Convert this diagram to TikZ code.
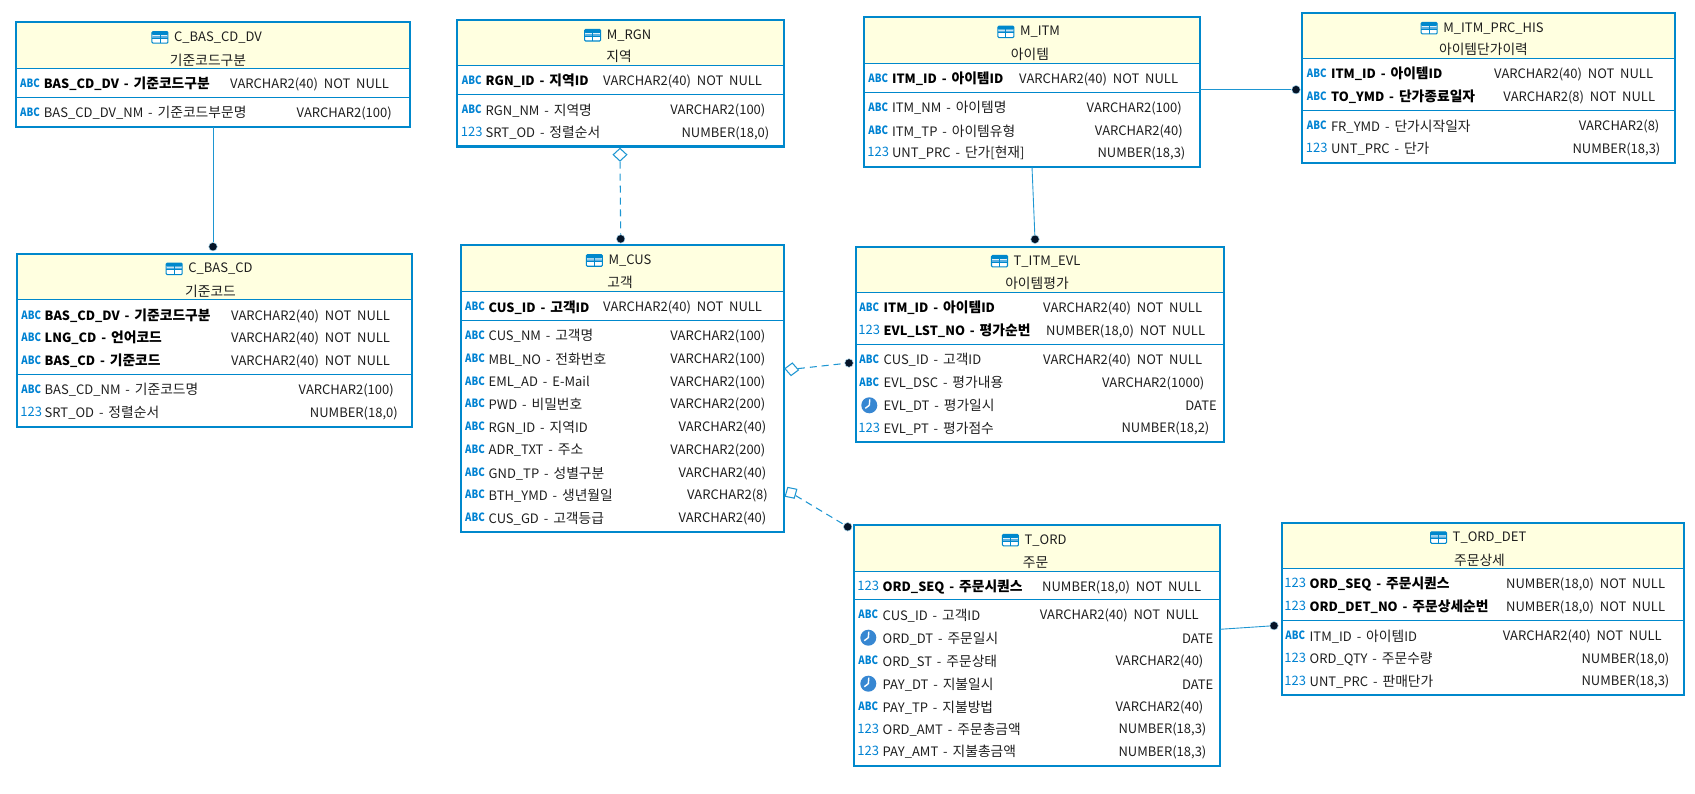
\documentclass[tikz,border=0pt]{standalone}
\usepackage{fontspec}
\setmainfont{Noto Sans CJK KR}
\usetikzlibrary{positioning,shapes.geometric}
\definecolor{erdblue}{RGB}{0,136,204}
\definecolor{relblue}{RGB}{30,150,210}
\definecolor{headyellow}{RGB}{255,255,224}
\definecolor{markblue}{RGB}{0,130,210}
\definecolor{iconmid}{RGB}{90,175,225}
\definecolor{clockblue}{RGB}{55,135,210}
\definecolor{dotnavy}{RGB}{5,20,40}
\definecolor{inkgrey}{RGB}{30,30,30}
\newcommand{\pxu}{0.02cm}
\newcommand{\ko}[1]{{\fontsize{7.85}{9}\selectfont #1}}
\newcommand{\coldash}{\hspace{2.8pt}-\hspace{2.8pt}}
\tikzset{
  erd-frame/.style={draw=erdblue, line width=1.3pt},
  erd-sep/.style={draw=erdblue, line width=0.6pt},
  titletext/.style={font=\fontsize{7.4}{9}\selectfont, text=inkgrey, inner sep=0pt, yshift=-0.5pt},
  tableicon/.style={
    draw=erdblue, fill=white, line width=0.6pt, rounded corners=0.6pt, inner sep=0pt,
    minimum width=16*\pxu, minimum height=11.5*\pxu,
    path picture={
      \fill[erdblue] (path picture bounding box.north west) rectangle ([yshift=-3.6*\pxu]path picture bounding box.north east);
      \fill[iconmid] ([yshift=-4.6*\pxu]path picture bounding box.north west) rectangle ([yshift=-6.6*\pxu]path picture bounding box.north east);
      \draw[erdblue, line width=0.5pt] ([yshift=-6.8*\pxu]path picture bounding box.north west) -- ([yshift=-6.8*\pxu]path picture bounding box.north east);
      \draw[erdblue, line width=0.5pt] (path picture bounding box.north) -- (path picture bounding box.south);
    }
  },
  keycol/.style={font=\fontsize{7.25}{9}\selectfont\bfseries, text=black, inner sep=0pt, yshift=-0.5pt},
  plaincol/.style={font=\fontsize{7.4}{9}\selectfont, text=inkgrey, inner sep=0pt, yshift=-0.5pt},
  typetext/.style={font=\fontsize{7.4}{9}\selectfont, text=inkgrey, inner sep=0pt, xshift=0.8pt, yshift=-0.5pt},
  abcmark/.style={font=\fontsize{6.5}{7}\selectfont\bfseries, text=markblue, inner sep=0pt, node contents={\scalebox{0.85}[1]{ABC}}},
  nummark/.style={font=\fontsize{7.4}{8}\selectfont, text=markblue, inner sep=0pt, node contents={123}},
  clockmark/.style={
    circle, fill=clockblue, inner sep=0pt, minimum size=16*\pxu, node contents={},
    path picture={
      \draw[white, line width=0.8pt] (path picture bounding box.center) -- ++(0.5,-6) (path picture bounding box.center) -- ++(-4,3);
    }
  },
  rel/.style={draw=relblue, line width=0.5pt},
  rel-opt/.style={draw=relblue, line width=0.6pt, dash pattern=on 4pt off 2.8pt},
  fk-dot/.style={circle, fill=dotnavy, draw=relblue!40, line width=0.3pt, minimum size=8.5*\pxu, inner sep=0pt},
  opt-end/.style={diamond, draw=relblue, fill=white, line width=0.6pt, aspect=1.1, minimum width=14*\pxu, minimum height=13*\pxu, inner sep=0pt}
}
% frame: name, x1, y1, x2, y2, line under the title, line under the keys
\newcommand{\erdframe}[7]{
  \node[inner sep=0pt, outer sep=0pt, minimum width={(#4-#2)*\pxu}, minimum height={(#5-#3)*\pxu}] (#1) at ({(#2+#4)/2},{(#3+#5)/2}) {};
  \fill[headyellow] (#1.north west) rectangle (#1.east |- 0,#6);
  \draw[erd-sep] (#1.west |- 0,#6) -- (#1.east |- 0,#6);
  \draw[erd-sep] (#1.west |- 0,#7) -- (#1.east |- 0,#7);
  \draw[erd-frame] (#1.north west) rectangle (#1.south east);
}
% title: name, centre x, y of title, y of second line, title, second line
\newcommand{\erdtitle}[6]{
  \node[titletext] (#1-title) at (#2+10,#3) {#5};
  \node[tableicon, left=3pt of #1-title] (#1-icon) {};
  \node[titletext] (#1-ko) at (#2,#4) {\ko{#6}};
}
% rows: name, style, mark x, text x, list of mark/y/text/type/right end
\newcommand{\erdrows}[5]{
  \foreach \mk/\yy/\nm/\ty/\rx [count=\n] in {#5} {
    \node (#1-#2-m\n) at (#3,\yy) [\mk];
    \node[#2, anchor=west] (#1-#2-n\n) at (#4,\yy) {\nm};
    \node[typetext, anchor=east] (#1-#2-t\n) at (\rx,\yy) {\ty};
  }
}
\begin{document}
\begin{tikzpicture}[x=0.02cm, y=-0.02cm]
  \useasboundingbox (0,0) rectangle (1695,794);
  % C_BAS_CD_DV
  \erdframe{cbdv}{16}{22}{410}{127}{68.5}{97.5}
  \erdtitle{cbdv}{208}{36.5}{59}{C\_BAS\_CD\_DV}{기준코드구분}
  \erdrows{cbdv}{keycol}{30}{43.5}{abcmark/83.3/BAS\_CD\_DV\coldash\ko{기준코드구분}/VARCHAR2(40)~~NOT~~NULL/388}
  \erdrows{cbdv}{plaincol}{30}{43.5}{abcmark/112.3/BAS\_CD\_DV\_NM\coldash\ko{기준코드부문명}/VARCHAR2(100)/390.7}
  % C_BAS_CD
  \erdframe{cbas}{17}{254}{412}{427}{299.5}{374.5}
  \erdtitle{cbas}{210.5}{268}{290}{C\_BAS\_CD}{기준코드}
  \erdrows{cbas}{keycol}{31.3}{44.3}{
    abcmark/315.3/BAS\_CD\_DV\coldash\ko{기준코드구분}/VARCHAR2(40)~~NOT~~NULL/389,
    abcmark/337.3/LNG\_CD\coldash\ko{언어코드}/VARCHAR2(40)~~NOT~~NULL/389,
    abcmark/360.3/BAS\_CD\coldash\ko{기준코드}/VARCHAR2(40)~~NOT~~NULL/389}
  \erdrows{cbas}{plaincol}{31.3}{44.3}{
    abcmark/389.3/BAS\_CD\_NM\coldash\ko{기준코드명}/VARCHAR2(100)/392.7,
    nummark/412.3/SRT\_OD\coldash\ko{정렬순서}/{NUMBER(18,0)}/396.7}
  % M_RGN
  \erdframe{mrgn}{457}{20}{784}{146.6}{65.6}{94.4}
  \erdtitle{mrgn}{619}{34.4}{55.4}{M\_RGN}{지역}
  \erdrows{mrgn}{keycol}{471.7}{485.3}{abcmark/80.3/RGN\_ID\coldash\ko{지역}ID/VARCHAR2(40)~~NOT~~NULL/761}
  \erdrows{mrgn}{plaincol}{471.7}{485.3}{
    abcmark/109.4/RGN\_NM\coldash\ko{지역명}/VARCHAR2(100)/764.3,
    nummark/132.2/SRT\_OD\coldash\ko{정렬순서}/{NUMBER(18,0)}/768.3}
  % M_CUS
  \erdframe{mcus}{461}{244.8}{784}{532}{291.5}{320.2}
  \erdtitle{mcus}{620}{259.6}{281.3}{M\_CUS}{고객}
  \erdrows{mcus}{keycol}{475}{488.3}{abcmark/306.6/CUS\_ID\coldash\ko{고객}ID/VARCHAR2(40)~~NOT~~NULL/761}
  \erdrows{mcus}{plaincol}{475}{488.3}{
    abcmark/335.3/CUS\_NM\coldash\ko{고객명}/VARCHAR2(100)/764.3,
    abcmark/358.5/MBL\_NO\coldash\ko{전화번호}/VARCHAR2(100)/764.3,
    abcmark/381.6/EML\_AD\coldash{}E-Mail/VARCHAR2(100)/764.3,
    abcmark/403.7/PWD\coldash\ko{비밀번호}/VARCHAR2(200)/764.3,
    abcmark/426.5/RGN\_ID\coldash\ko{지역}ID/VARCHAR2(40)/765.3,
    abcmark/449.7/ADR\_TXT\coldash\ko{주소}/VARCHAR2(200)/764.3,
    abcmark/472.5/GND\_TP\coldash\ko{성별구분}/VARCHAR2(40)/765.3,
    abcmark/494.6/BTH\_YMD\coldash\ko{생년월일}/VARCHAR2(8)/766.7,
    abcmark/517.7/CUS\_GD\coldash\ko{고객등급}/VARCHAR2(40)/765.3}
  % M_ITM
  \erdframe{mitm}{864}{16.7}{1200}{166.7}{63.3}{92.3}
  \erdtitle{mitm}{1030}{31}{53}{M\_ITM}{아이템}
  \erdrows{mitm}{keycol}{878.3}{891.7}{abcmark/78.3/ITM\_ID\coldash\ko{아이템}ID/VARCHAR2(40)~~NOT~~NULL/1177}
  \erdrows{mitm}{plaincol}{878.3}{891.7}{
    abcmark/107.3/ITM\_NM\coldash\ko{아이템명}/VARCHAR2(100)/1180.7,
    abcmark/130.3/ITM\_TP\coldash\ko{아이템유형}/VARCHAR2(40)/1181.7,
    nummark/152.3/UNT\_PRC\coldash\ko{단가}[\ko{현재}]/{NUMBER(18,3)}/1184.3}
  % T_ITM_EVL
  \erdframe{tevl}{855.7}{247}{1224}{441.7}{292.3}{344.3}
  \erdtitle{tevl}{1037}{260.3}{282.7}{T\_ITM\_EVL}{아이템평가}
  \erdrows{tevl}{keycol}{869.3}{883.3}{
    abcmark/307.3/ITM\_ID\coldash\ko{아이템}ID/VARCHAR2(40)~~NOT~~NULL/1201,
    nummark/330.3/EVL\_LST\_NO\coldash\ko{평가순번}/{NUMBER(18,0)~~NOT~~NULL}/1204}
  \erdrows{tevl}{plaincol}{869.3}{883.3}{
    abcmark/359.3/CUS\_ID\coldash\ko{고객}ID/VARCHAR2(40)~~NOT~~NULL/1201,
    abcmark/382.3/EVL\_DSC\coldash\ko{평가내용}/VARCHAR2(1000)/1203.3,
    clockmark/405.3/EVL\_DT\coldash\ko{평가일시}/DATE/1215.7,
    nummark/427.7/EVL\_PT\coldash\ko{평가점수}/{NUMBER(18,2)}/1208.3}
  % M_ITM_PRC_HIS
  \erdframe{mhis}{1301.7}{13.3}{1675}{163}{58.7}{110.3}
  \erdtitle{mhis}{1483.5}{27.3}{48.7}{M\_ITM\_PRC\_HIS}{아이템단가이력}
  \erdrows{mhis}{keycol}{1316.7}{1330.7}{
    abcmark/73.3/ITM\_ID\coldash\ko{아이템}ID/VARCHAR2(40)~~NOT~~NULL/1652,
    abcmark/96.3/TO\_YMD\coldash\ko{단가종료일자}/VARCHAR2(8)~~NOT~~NULL/1654}
  \erdrows{mhis}{plaincol}{1316.7}{1330.7}{
    abcmark/125.7/FR\_YMD\coldash\ko{단가시작일자}/VARCHAR2(8)/1658.3,
    nummark/148.3/UNT\_PRC\coldash\ko{단가}/{NUMBER(18,3)}/1659.3}
  % T_ORD
  \erdframe{tord}{853.7}{525}{1220}{765.7}{571.3}{599.3}
  \erdtitle{tord}{1035.5}{539.3}{561.7}{T\_ORD}{주문}
  \erdrows{tord}{keycol}{868.3}{882.3}{nummark/586.3/ORD\_SEQ\coldash\ko{주문시퀀스}/{NUMBER(18,0)~~NOT~~NULL}/1200}
  \erdrows{tord}{plaincol}{868.3}{882.3}{
    abcmark/614.7/CUS\_ID\coldash\ko{고객}ID/VARCHAR2(40)~~NOT~~NULL/1197.7,
    clockmark/637.7/ORD\_DT\coldash\ko{주문일시}/DATE/1212.3,
    abcmark/660.7/ORD\_ST\coldash\ko{주문상태}/VARCHAR2(40)/1202.3,
    clockmark/683.7/PAY\_DT\coldash\ko{지불일시}/DATE/1212.3,
    abcmark/706.7/PAY\_TP\coldash\ko{지불방법}/VARCHAR2(40)/1202.3,
    nummark/728.7/ORD\_AMT\coldash\ko{주문총금액}/{NUMBER(18,3)}/1205.3,
    nummark/751.3/PAY\_AMT\coldash\ko{지불총금액}/{NUMBER(18,3)}/1205.3}
  % T_ORD_DET
  \erdframe{tdet}{1281.7}{523}{1684.3}{695}{568.7}{620.7}
  \erdtitle{tdet}{1479.5}{536.7}{559}{T\_ORD\_DET}{주문상세}
  \erdrows{tdet}{keycol}{1295.3}{1309.3}{
    nummark/583.3/ORD\_SEQ\coldash\ko{주문시퀀스}/{NUMBER(18,0)~~NOT~~NULL}/1664,
    nummark/606.3/ORD\_DET\_NO\coldash\ko{주문상세순번}/{NUMBER(18,0)~~NOT~~NULL}/1664}
  \erdrows{tdet}{plaincol}{1295.3}{1309.3}{
    abcmark/635.7/ITM\_ID\coldash\ko{아이템}ID/VARCHAR2(40)~~NOT~~NULL/1660.7,
    nummark/658.3/ORD\_QTY\coldash\ko{주문수량}/{NUMBER(18,0)}/1668.3,
    nummark/680.7/UNT\_PRC\coldash\ko{판매단가}/{NUMBER(18,3)}/1668.3}
  % Relations
  \node[fk-dot] (dot-cbas) at (213,246.7) {};
  \node[fk-dot] (dot-tevl) at (1035,239.3) {};
  \node[fk-dot] (dot-mhis) at (1296,89.7) {};
  \node[fk-dot] (dot-tdet) at (1274,625.7) {};
  \node[fk-dot] (dot-mcus) at (620.7,238.9) {};
  \node[fk-dot] (dot-evl) at (849,363) {};
  \node[fk-dot] (dot-ord) at (847.7,526.8) {};
  \node[opt-end] (opt-rgn) at (620,154.7) {};
  \node[opt-end, rotate=-6] (opt-evl) at (791.7,369.3) {};
  \node[opt-end, rotate=31] (opt-ord) at (791,492.8) {};
  \draw[rel] (cbdv.south -| dot-cbas) -- (dot-cbas);
  \draw[rel] (mitm.south) -- (dot-tevl);
  \draw[rel] (mitm.east |- dot-mhis) -- (dot-mhis);
  \draw[rel] (tord.east |- 0,629.3) -- (dot-tdet);
  \draw[rel-opt] (opt-rgn) -- (dot-mcus);
  \draw[rel-opt] (opt-evl) -- (dot-evl);
  \draw[rel-opt] (opt-ord) -- (dot-ord);
\end{tikzpicture}
\end{document}
